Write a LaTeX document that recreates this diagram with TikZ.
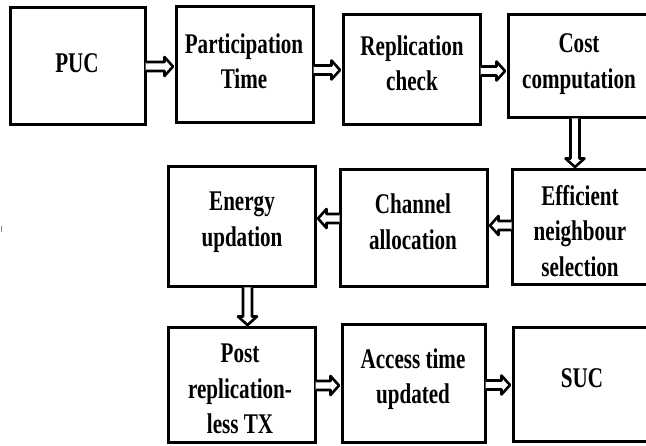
\documentclass[tikz,border=0pt]{standalone}
\usepackage{fontspec}
\setmainfont{Liberation Serif}[FakeStretch=0.74]
\usetikzlibrary{calc}
\tikzset{
  box/.style={draw, line width=3pt, rectangle, inner sep=0pt},
  lbl/.style={inner sep=0pt, align=center, font=\bfseries\fontsize{28.5}{35.5}\selectfont},
  flow/.style={draw, line width=2.6pt, line join=round, fill=white,
    to path={let \p1=(\tikztostart), \p2=(\tikztotarget),
      \n1={atan2(\y2-\y1,\x2-\x1)}, \n2={veclen(\x2-\x1,\y2-\y1)} in
      [shift={(\p1)}, rotate=\n1]
      (-1,-4.5) -- (\n2-10,-4.5) -- (\n2-10,-9.5) -- (\n2-1.5,0) -- (\n2-10,9.5) -- (\n2-10,4.5) -- (-1,4.5)}},
}
\begin{document}
\begin{tikzpicture}[x=1pt,y=-1pt]
\useasboundingbox (0,0) rectangle (646,446);
% boxes
\node[box, minimum width=135pt, minimum height=117pt] (b1) at (77.5,66.5) {};
\node[box, minimum width=137pt, minimum height=116pt] (b2) at (244.5,65) {};
\node[box, minimum width=137pt, minimum height=110pt] (b3) at (411.5,70) {};
\node[box, minimum width=142pt, minimum height=103pt] (b4) at (579,66.5) {};
\node[box, minimum width=138pt, minimum height=115pt] (b5) at (581,227.5) {};
\node[box, minimum width=147pt, minimum height=117pt] (b6) at (413.5,228.5) {};
\node[box, minimum width=147pt, minimum height=120pt] (b7) at (241.5,227) {};
\node[box, minimum width=147pt, minimum height=115pt] (b8) at (241.5,385.5) {};
\node[box, minimum width=143pt, minimum height=118pt] (b9) at (413.5,384) {};
\node[box, minimum width=137pt, minimum height=114pt] (b10) at (581.5,385) {};
% labels
\node[lbl] (t1) at (77,63) {PUC};
\node[lbl] (t2) at (244,61) {Participation\\Time};
\node[lbl] (t3) at (412,63) {Replication\\check};
\node[lbl] (t4) at (579,64) {Cost\\computation};
\node[lbl] (t5) at (580,231) {Efficient\\neighbour\\selection};
\node[lbl] (t6) at (413,222) {Channel\\allocation};
\node[lbl] (t7) at (242,222) {Energy\\updation};
\node[lbl] (t8) at (240,389) {Post\\replication-\\less TX};
\node[lbl] (t9) at (413,379) {Access time\\updated};
\node[lbl] (t10) at (582,378) {SUC};
% connectors
\path[flow] (b1.east) to (b1.east -| b2.west);
\path[flow] (b3.west -| b2.east) to (b3.west);
\path[flow] ([yshift=-1pt]b3.east) to ([yshift=-1pt]b3.east -| b4.west);
\path[flow] ([xshift=-4pt]b4.south) to ([xshift=-4pt]b4.south |- b5.north);
\path[flow] ([yshift=2pt]b5.west) to ([yshift=2pt]b5.west -| b6.east);
\path[flow] ([yshift=10pt]b6.west) to ([yshift=10pt]b6.west -| b7.east);
\path[flow] ([xshift=6pt]b7.south) to ([xshift=6pt]b7.south |- b8.north);
\path[flow] (b8.east) to (b8.east -| b9.west);
\path[flow] (b10.west -| b9.east) to (b10.west);
% stray mark in the margin
\coordinate (m1) at (1.5,226);
\coordinate (m2) at (1.5,232);
\draw[gray, line width=0.8pt] (m1) -- (m2);
\end{tikzpicture}
\end{document}
